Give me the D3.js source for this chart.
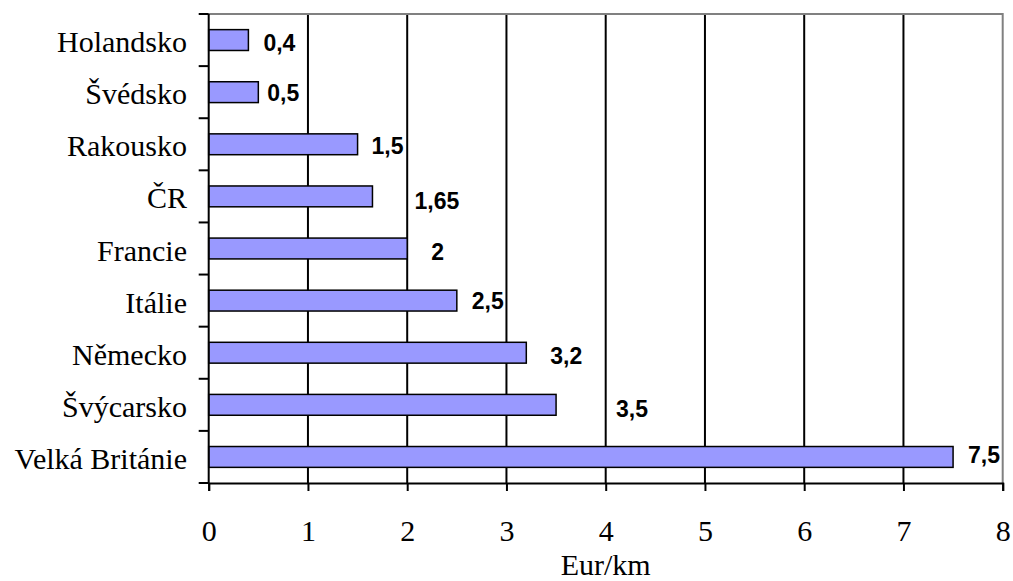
<!DOCTYPE html>
<html>
<head>
<meta charset="utf-8">
<script src="https://cdn.jsdelivr.net/npm/d3@7/dist/d3.min.js"></script>
<style>
  html, body { margin: 0; padding: 0; background: #ffffff; }
  svg { display: block; }
</style>
</head>
<body>
<svg id="chart" width="1013" height="581"></svg>
<script>
// Charge per km in each country (Eur/km), listed top to bottom
const countries = ["Holandsko", "Švédsko", "Rakousko", "ČR", "Francie", "Itálie", "Německo", "Švýcarsko", "Velká Británie"];
const values = [0.4, 0.5, 1.5, 1.65, 2, 2.5, 3.2, 3.5, 7.5];
const valueLabels = ["0,4", "0,5", "1,5", "1,65", "2", "2,5", "3,2", "3,5", "7,5"];
const xTicks = [0, 1, 2, 3, 4, 5, 6, 7, 8];
const xTitle = "Eur/km";

// Per-label placement tweaks [dx from bar end, dy from band centre]
const labelNudge = [[15, 3], [9, 1], [14, 2], [42, 5], [24, 3], [15, 0], [24, 3], [60, 4], [15, -2]];

const svg = d3.select("#chart");
const plotL = 208.7, plotR = 1002.7, plotT = 14, plotB = 483;

const x = d3.scaleLinear().domain([0, 8]).range([plotL, plotR]);
const y = d3.scaleBand().domain(countries).range([plotT, plotB])
  .paddingInner(0.6).paddingOuter(0.3);
const step = y.step();

const serif = "'Liberation Serif', 'Times New Roman', serif";
const sans = "'Liberation Sans', Arial, sans-serif";

// vertical gridlines
svg.append("g").selectAll("line")
  .data(xTicks.filter(t => t > 0 && t < 8))
  .join("line")
  .attr("x1", d => x(d)).attr("x2", d => x(d))
  .attr("y1", plotT).attr("y2", plotB)
  .attr("stroke", "#000").attr("stroke-width", 2);

// top and right frame
svg.append("path")
  .attr("d", `M${plotL},${plotT}H${plotR}V${plotB}`)
  .attr("fill", "none").attr("stroke", "#808080").attr("stroke-width", 2);

// bars
svg.append("g").selectAll("rect")
  .data(countries)
  .join("rect")
  .attr("x", x(0))
  .attr("y", d => y(d))
  .attr("width", (d, i) => x(values[i]) - x(0))
  .attr("height", y.bandwidth())
  .attr("fill", "#9999FF")
  .attr("stroke", "#000").attr("stroke-width", 1.5);

// value labels
svg.append("g").selectAll("text")
  .data(countries)
  .join("text")
  .attr("x", (d, i) => x(values[i]) + labelNudge[i][0])
  .attr("y", (d, i) => y(d) + y.bandwidth() / 2 + 8 + labelNudge[i][1])
  .attr("font-family", sans).attr("font-weight", "bold").attr("font-size", 23)
  .attr("fill", "#000")
  .text((d, i) => valueLabels[i]);

// y axis line with ticks at band boundaries
svg.append("line")
  .attr("x1", plotL).attr("x2", plotL).attr("y1", plotT).attr("y2", plotB)
  .attr("stroke", "#000").attr("stroke-width", 2);
svg.append("g").selectAll("line")
  .data(d3.range(countries.length + 1))
  .join("line")
  .attr("x1", plotL - 10).attr("x2", plotL)
  .attr("y1", i => plotT + i * step).attr("y2", i => plotT + i * step)
  .attr("stroke", "#000").attr("stroke-width", 2);

// category labels
svg.append("g").selectAll("text")
  .data(countries)
  .join("text")
  .attr("x", 187)
  .attr("y", d => y(d) + y.bandwidth() / 2 + 12)
  .attr("text-anchor", "end")
  .attr("font-family", serif).attr("font-size", 30)
  .attr("fill", "#000")
  .text(d => d);

// x axis
const xAxis = d3.axisBottom(x).tickValues(xTicks).tickSize(8).tickPadding(29)
  .tickFormat(d3.format("d"));
const gx = svg.append("g").attr("transform", `translate(0,${plotB})`).call(xAxis);
gx.select(".domain").attr("stroke", "#000").attr("stroke-width", 2);
gx.selectAll(".tick line").attr("stroke", "#000").attr("stroke-width", 2);
gx.selectAll(".tick text")
  .attr("font-family", serif).attr("font-size", 30).attr("fill", "#000");

// x axis title
svg.append("text")
  .attr("x", (plotL + plotR) / 2).attr("y", 575)
  .attr("text-anchor", "middle")
  .attr("font-family", serif).attr("font-size", 30)
  .attr("fill", "#000")
  .text(xTitle);
</script>
</body>
</html>
